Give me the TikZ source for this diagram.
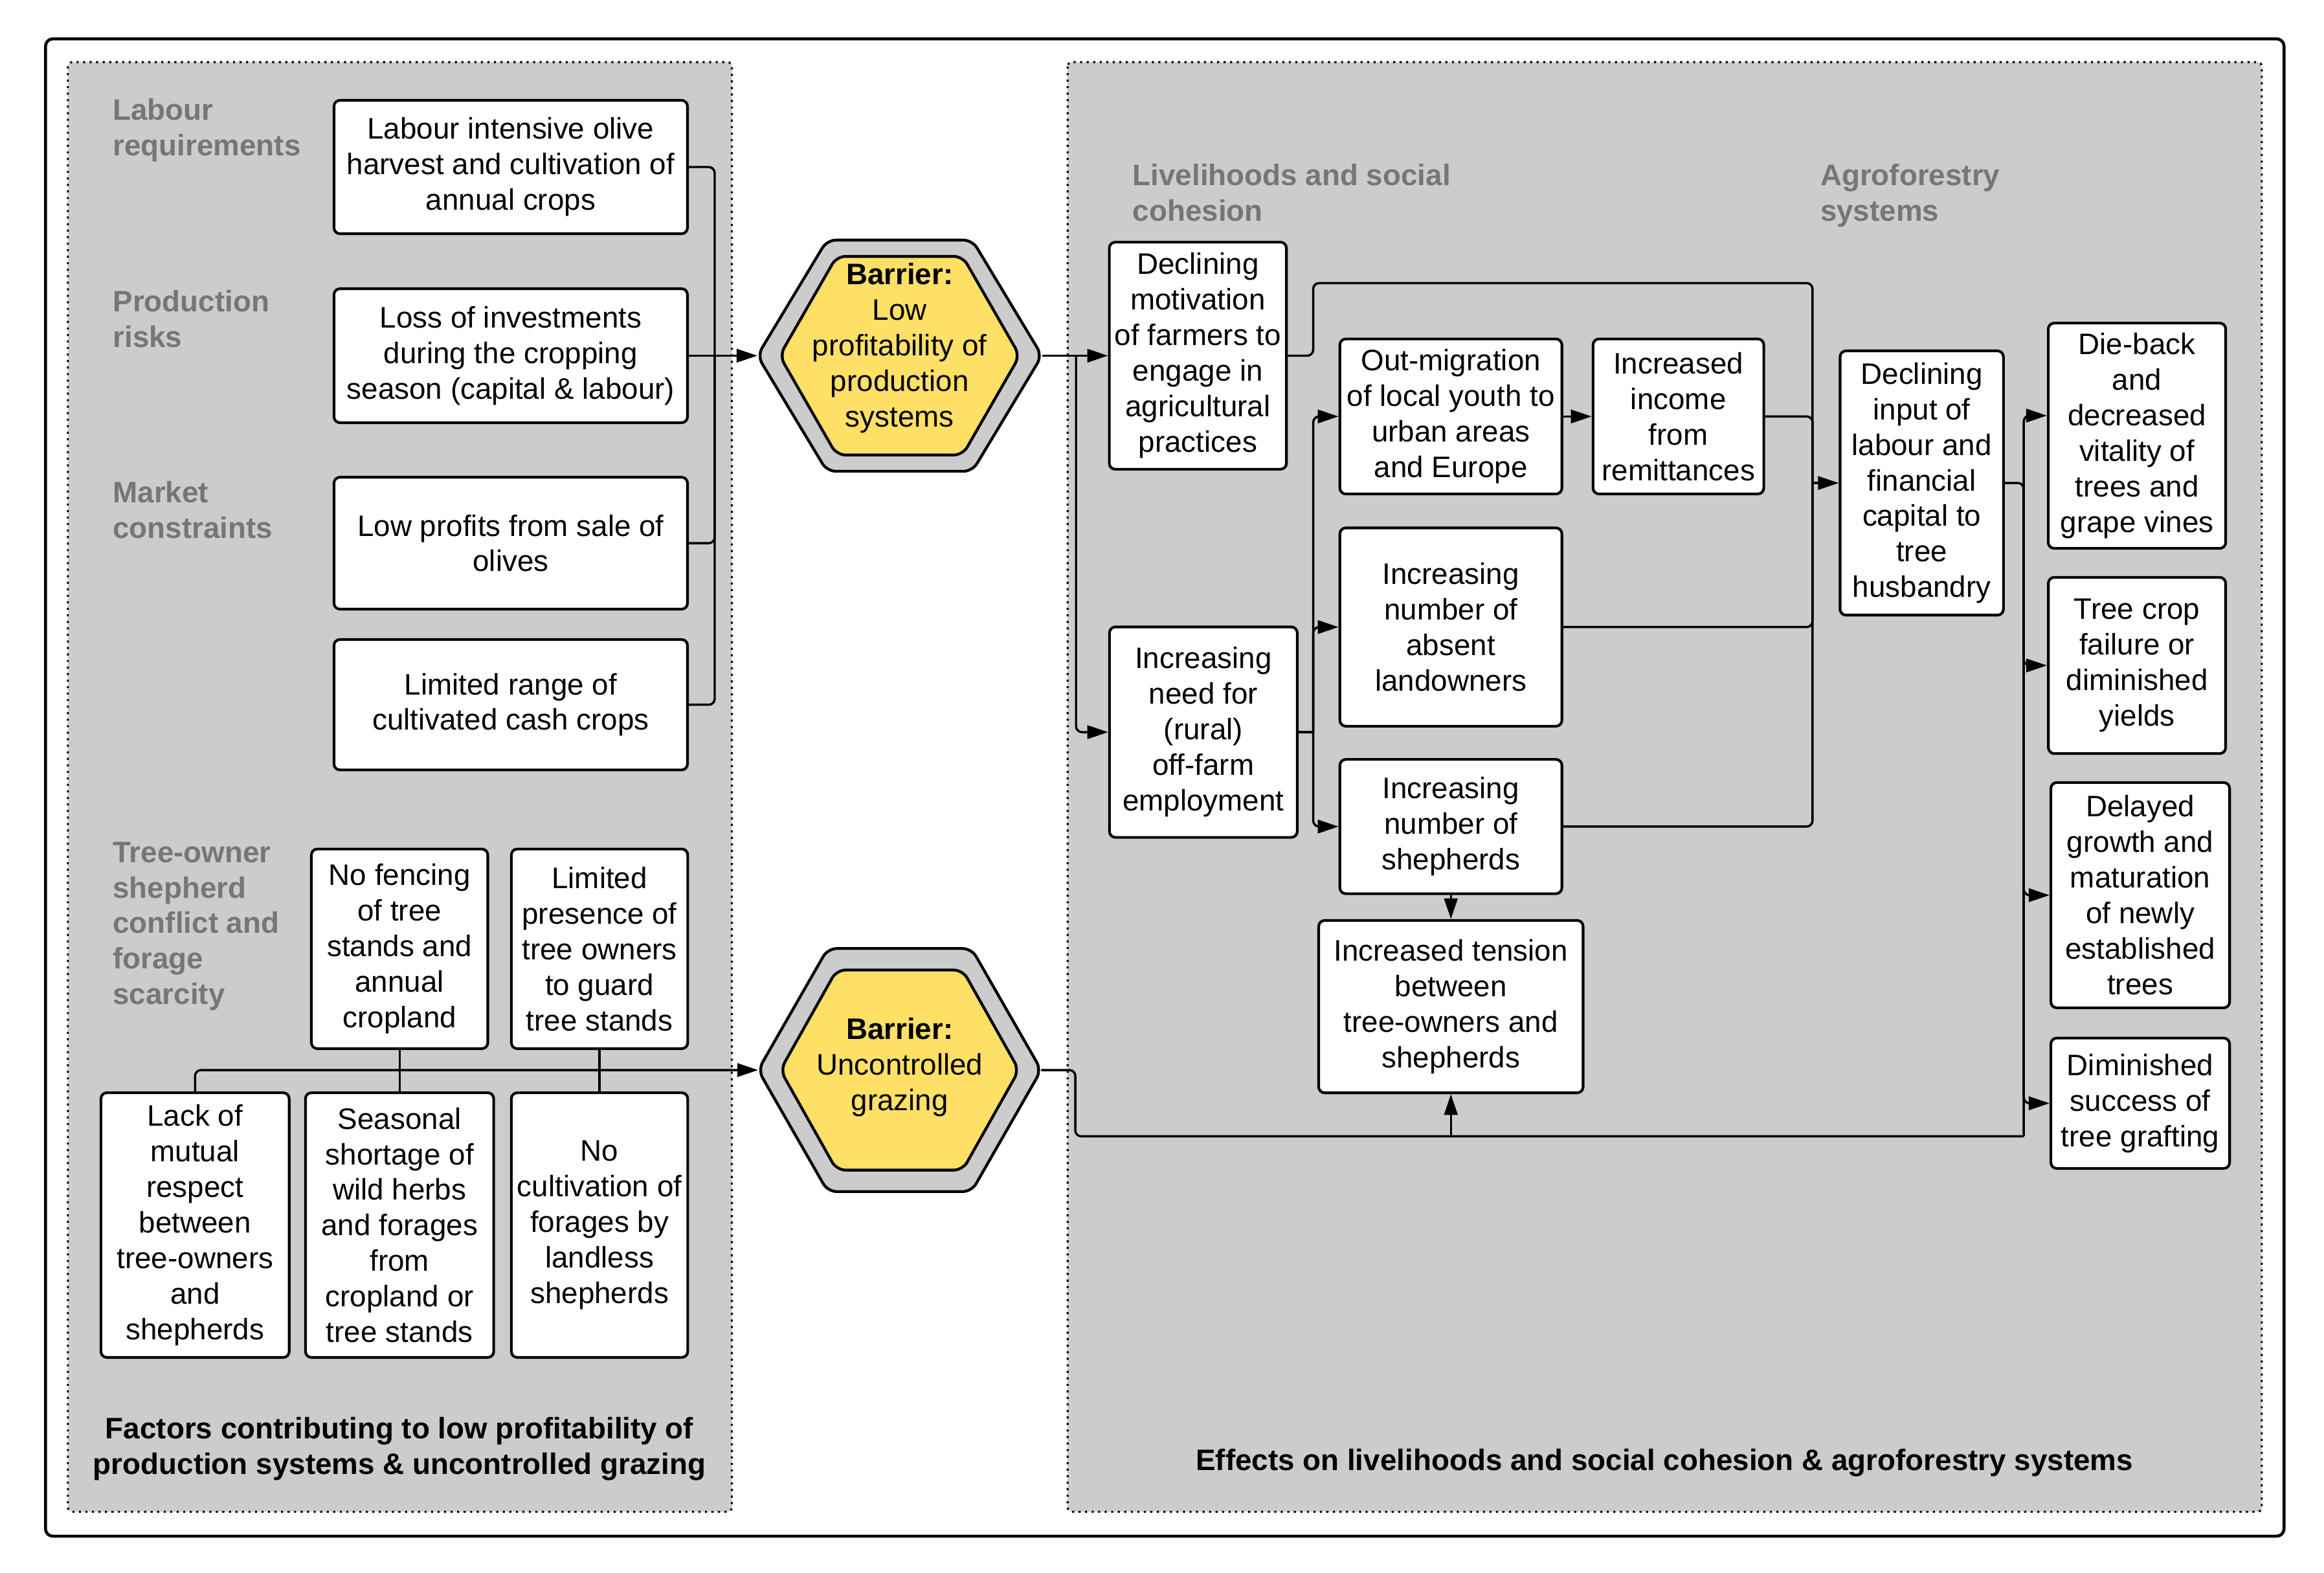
\documentclass[tikz,border=0pt]{standalone}
\usepackage{fontspec}
\setmainfont{Liberation Sans}
\usetikzlibrary{arrows.meta,calc}
\definecolor{panelgray}{RGB}{204,204,204}
\definecolor{labelgray}{RGB}{118,118,118}
\definecolor{hexyellow}{RGB}{255,224,102}
\begin{document}
\begin{tikzpicture}[x=1pt,y=-1pt,
  every node/.style={font=\fontsize{20}{24}\selectfont},
  box/.style={draw, fill=white, line width=1.8pt, rounded corners=4pt, align=center, inner sep=0pt},
  grouplabel/.style={text=labelgray, font=\fontsize{20}{24}\selectfont\bfseries, align=left, anchor=west, inner sep=0pt},
  captiontext/.style={font=\fontsize{20}{24}\selectfont\bfseries, align=center, inner sep=0pt},
  panel/.style={draw, fill=panelgray, line width=1.4pt, dash pattern=on 1.4pt off 3pt, rounded corners=3pt},
  conn/.style={line width=1.5pt, rounded corners=4pt},
  arr/.style={conn, -{Triangle[length=14pt,width=9pt]}},
  hexout/.style={draw, fill=panelgray, line width=1.9pt, rounded corners=6pt},
  hexin/.style={draw, fill=hexyellow, line width=1.9pt, rounded corners=6pt},
  hextext/.style={align=center, inner sep=0pt}
]
\useasboundingbox (0,0) rectangle (1568,1061.3);
\fill[white] (0,0) rectangle (1568,1061.3);

% outer frame and panels
\draw[line width=2pt, rounded corners=5pt] (30.7,26.2) rectangle (1541,1036.5);
\draw[panel] (45.8,41.9) rectangle (493.8,1020);
\draw[panel] (720.3,41.9) rectangle (1526,1020);

% hexagon 1
\begin{scope}[shift={(607,240)}]
  \draw[hexout] (0,-78) -- (49,-78) -- (96,0) -- (49,78) -- (-49,78) -- (-96,0) -- (-49,-78) -- cycle;
  \draw[hexin] (0,-67) -- (42.5,-67) -- (81,0) -- (42.5,67) -- (-42.5,67) -- (-81,0) -- (-42.5,-67) -- cycle;
  \coordinate (h1w) at (-96,0);
  \coordinate (h1e) at (96,0);
\end{scope}
\node[hextext] (h1) at (607,235) {\textbf{Barrier:}\\Low\\profitability of\\production\\systems};

% hexagon 2
\begin{scope}[shift={(607,722)}]
  \draw[hexout] (0,-82) -- (48.5,-82) -- (95.5,0) -- (48.5,82) -- (-48.5,82) -- (-95.5,0) -- (-48.5,-82) -- cycle;
  \draw[hexin] (0,-67.5) -- (42.5,-67.5) -- (80.5,0) -- (42.5,67.5) -- (-42.5,67.5) -- (-80.5,0) -- (-42.5,-67.5) -- cycle;
  \coordinate (h2w) at (-95.5,0);
  \coordinate (h2e) at (95.5,0);
\end{scope}
\node[hextext] (h2) at (607,720) {\textbf{Barrier:}\\Uncontrolled\\grazing};

% group labels
\node[grouplabel] (gl1) at (76,88) {Labour\\requirements};
\node[grouplabel] (gl2) at (76,215) {Production\\risks};
\node[grouplabel] (gl3) at (76,344) {Market\\constraints};
\node[grouplabel] (gl4) at (76,625) {Tree-owner\\shepherd\\conflict and\\forage\\scarcity};
\node[grouplabel] (gl5) at (764,130) {Livelihoods and social\\cohesion};
\node[grouplabel] (gl6) at (1228,132) {Agroforestry\\systems};

% captions
\node[captiontext] (cap1) at (269.5,977.6) {Factors contributing to low profitability of\\production systems \& uncontrolled grazing};
\node[captiontext] (cap2) at (1123,987) {Effects on livelihoods and social cohesion \& agroforestry systems};

% left boxes
\node[box, minimum width=238.5pt, minimum height=90pt] (b1) at (344.6,112.7) {Labour intensive olive\\harvest and cultivation of\\annual crops};
\node[box, minimum width=238.5pt, minimum height=90.4pt] (b2) at (344.6,240) {Loss of investments\\during the cropping\\season (capital \& labour)};
\node[box, minimum width=238.5pt, minimum height=89pt] (b3) at (344.6,366.5) {Low profits from sale of\\olives};
\node[box, minimum width=238.5pt, minimum height=88pt] (b4) at (344.6,475.5) {Limited range of\\cultivated cash crops};

\node[box, minimum width=119pt, minimum height=134.7pt] (nf) at (269.6,640.2) {No fencing\\of tree\\stands and\\annual\\cropland};
\node[box, minimum width=119pt, minimum height=134.7pt] (lp) at (404.5,640.2) {Limited\\presence of\\tree owners\\to guard\\tree stands};
\node[box, minimum width=127pt, minimum height=178.6pt] (lm) at (131.6,826.6) {Lack of\\mutual\\respect\\between\\tree-owners\\and\\shepherds};
\node[box, minimum width=127pt, minimum height=178.6pt] (ss) at (269.6,826.6) {Seasonal\\shortage of\\wild herbs\\and forages\\from\\cropland or\\tree stands};
\node[box, minimum width=119pt, minimum height=178.6pt] (nc) at (404.5,826.6) {No\\cultivation of\\forages by\\landless\\shepherds};

% right panel boxes
\node[box, minimum width=119.5pt, minimum height=153.2pt] (d1) at (808.2,240) {Declining\\motivation\\of farmers to\\engage in\\agricultural\\practices};
\node[box, minimum width=126.7pt, minimum height=142pt] (d2) at (811.9,494) {Increasing\\need for\\(rural)\\off-farm\\employment};
\node[box, minimum width=149.8pt, minimum height=104.6pt] (m1) at (978.9,281) {Out-migration\\of local youth to\\urban areas\\and Europe};
\node[box, minimum width=115.2pt, minimum height=104.6pt] (m2) at (1132.4,281) {Increased\\income\\from\\remittances};
\node[box, minimum width=149.8pt, minimum height=133.8pt] (m3) at (978.9,423.1) {Increasing\\number of\\absent\\landowners};
\node[box, minimum width=149.8pt, minimum height=90.6pt] (m4) at (978.9,557.7) {Increasing\\number of\\shepherds};
\node[box, minimum width=178.4pt, minimum height=116.3pt] (t) at (978.9,679.2) {Increased tension\\between\\tree-owners and\\shepherds};
\node[box, minimum width=110.2pt, minimum height=178.3pt] (a1) at (1296.6,325.9) {Declining\\input of\\labour and\\financial\\capital to\\tree\\husbandry};
\node[box, minimum width=119.7pt, minimum height=152pt] (r1) at (1441.8,294) {Die-back\\and\\decreased\\vitality of\\trees and\\grape vines};
\node[box, minimum width=119.6pt, minimum height=118.9pt] (r2) at (1441.8,449) {Tree crop\\failure or\\diminished\\yields};
\node[box, minimum width=120.6pt, minimum height=152pt] (r3) at (1444,604) {Delayed\\growth and\\maturation\\of newly\\established\\trees};
\node[box, minimum width=120.6pt, minimum height=88pt] (r4) at (1444,744.4) {Diminished\\success of\\tree grafting};

% connectors, left top
\coordinate (busL) at (482.2,240);
\draw[conn] (b1.east) -| (busL);
\draw[conn] (b3.east) -| (busL);
\draw[conn] (b4.east) -| (busL);
\draw[arr] (b2.east) -- (h1w);

% connectors, left bottom
\draw[arr] (lm.north) |- (h2w);
\draw[conn] (nf.south) -- (ss.north);
\draw[conn] (lp.south) -- (nc.north);

% connectors, right panel
\coordinate (busA) at (726,240);
\draw[arr] (h1e) -- (d1.west);
\draw[arr] (busA) |- (d2.west);

\coordinate (j1) at (886,240);
\coordinate (j2) at (1222.9,191);
\coordinate (busR) at (1222.9,325.9);
\draw[conn] (d1.east) -- (j1) |- (j2) -- (busR);
\draw[arr] (busR) -- (a1.west);
\draw[conn] (m2.east) -| (busR);
\draw[conn] (m3.east) -| (busR);
\draw[conn] (m4.east) -| (busR);

\coordinate (busM) at (886,494);
\draw[conn] (d2.east) -- (busM);
\draw[arr] (busM) |- (m1.west);
\draw[arr] (busM) |- (m3.west);
\draw[arr] (busM) |- (m4.west);
\draw[arr] (m1.east) -- (m2.west);
\draw[arr] (m4.south) -- (t.north);

\coordinate (j3) at (725.5,722);
\coordinate (busB) at (1365.4,766.7);
\draw[conn] (h2e) -- (j3) |- (busB);
\draw[arr] (t.south |- busB) -- (t.south);

\coordinate (busRR) at (1365.4,325.9);
\draw[conn] (a1.east) -- (busRR) -- (busB);
\draw[arr] (busRR) |- ([yshift=13.6pt]r1.west);
\draw[arr] (busRR) |- (r2.west);
\draw[arr] (busRR) |- (r3.west);
\draw[arr] (busRR) |- (r4.west);
\end{tikzpicture}
\end{document}
